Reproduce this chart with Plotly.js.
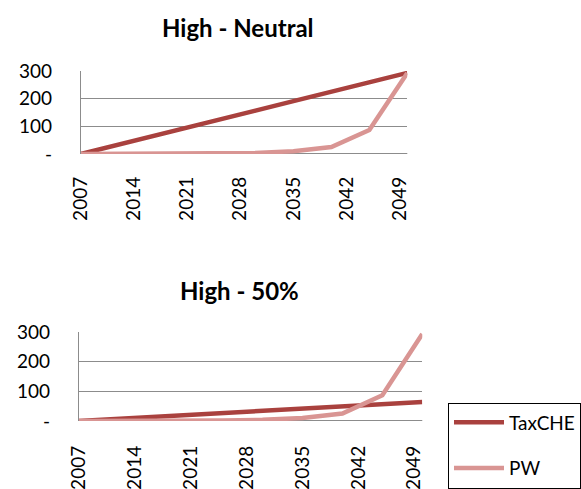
<!DOCTYPE html>
<html>
<head>
<meta charset="utf-8">
<script src="https://cdn.plot.ly/plotly-3.0.1.min.js"></script>
<style>
  html, body { margin: 0; padding: 0; background: #ffffff; }
  #chart { width: 581px; height: 489px; }
</style>
</head>
<body>
<div id="chart"></div>
<script>
// Years sampled for both scenarios
const years = [2007, 2010, 2015, 2020, 2025, 2030, 2035, 2040, 2045, 2050];

// High - Neutral scenario
const taxcheNeutral = [0, 20, 55, 89, 123, 157, 191, 225, 259, 293];
// High - 50% scenario
const taxche50 = [0, 4.5, 12, 19, 27, 34, 42, 49, 57, 64];
// PW path (shared by both scenarios)
const pw = [0, 0, 0.5, 1, 2, 4, 10, 25, 87, 293];

const xTicks = [2007, 2014, 2021, 2028, 2035, 2042, 2049];
const yTicks = [0, 100, 200, 300];
const yTickText = ['-', '100', '200', '300'];

const seriesNames = ['TaxCHE', 'PW'];
const panelTitles = ['High - Neutral', 'High - 50%'];

const colTax = '#A9413E';
const colPW = '#D99593';
const W = 581, H = 489;
const FONT = 'Lato, "Open Sans", sans-serif';

function line(x, y, name, color, xa, ya, show) {
  return {
    x: x, y: y, name: name, type: 'scatter', mode: 'lines',
    line: { color: color, width: 4.5 },
    xaxis: xa, yaxis: ya, showlegend: show, legendgroup: name,
    hoverinfo: 'skip'
  };
}

const traces = [
  line(years, taxcheNeutral, seriesNames[0], colTax, 'x', 'y', true),
  line(years, pw, seriesNames[1], colPW, 'x', 'y', true),
  line(years, taxche50, seriesNames[0], colTax, 'x2', 'y2', false),
  line(years, pw, seriesNames[1], colPW, 'x2', 'y2', false)
];

function xAxis(domain, anchor, standoff) {
  return {
    domain: domain, anchor: anchor, range: [2007, 2050],
    tickmode: 'array', tickvals: xTicks, ticktext: xTicks.map(String),
    tickangle: -90, showgrid: false, zeroline: false,
    showline: false, ticks: '', ticklen: 0, ticklabelstandoff: standoff,
    tickfont: { family: FONT, size: 19, color: '#000' }, fixedrange: true
  };
}
function yAxis(domain, anchor) {
  return {
    domain: domain, anchor: anchor, range: [0, 300],
    tickmode: 'array', tickvals: yTicks, ticktext: yTickText,
    showgrid: true, gridcolor: '#8c8c8c', gridwidth: 1,
    zeroline: false, showline: true, linecolor: '#8c8c8c', linewidth: 1,
    ticks: '', ticklabelstandoff: 24,
    tickfont: { family: FONT, size: 19, color: '#000' },
    fixedrange: true
  };
}

const layout = {
  width: W, height: H,
  margin: { l: 0, r: 0, t: 0, b: 0 },
  paper_bgcolor: '#ffffff', plot_bgcolor: 'rgba(0,0,0,0)',
  showlegend: true,
  xaxis: xAxis([81 / W, 408 / W], 'y', 18),
  yaxis: yAxis([(H - 154) / H, (H - 71) / H], 'x'),
  xaxis2: xAxis([79 / W, 423 / W], 'y2', 20),
  yaxis2: yAxis([(H - 421) / H, (H - 332) / H], 'x2'),
  legend: {
    x: 449 / W, y: 1 - 402.5 / H, xanchor: 'left', yanchor: 'top',
    bordercolor: '#000', borderwidth: 1, bgcolor: '#fff',
    font: { family: FONT, size: 19, color: '#000' },
    traceorder: 'grouped', tracegroupgap: 18, itemwidth: 50
  },
  shapes: [
    // darker category baselines at zero
    { type: 'line', xref: 'x domain', yref: 'y', x0: 0, x1: 1, y0: 0, y1: 0,
      line: { color: '#8c8c8c', width: 2 }, layer: 'below' },
    { type: 'line', xref: 'x2 domain', yref: 'y2', x0: 0, x1: 1, y0: 0, y1: 0,
      line: { color: '#8c8c8c', width: 2 }, layer: 'below' }
  ],
  annotations: [
    { text: '<b>' + panelTitles[0] + '</b>', xref: 'paper', yref: 'paper',
      x: 238 / W, y: 1 - 28 / H, xanchor: 'center', yanchor: 'middle',
      showarrow: false, font: { family: FONT, size: 24, color: '#000' } },
    { text: '<b>' + panelTitles[1] + '</b>', xref: 'paper', yref: 'paper',
      x: 240 / W, y: 1 - 290 / H, xanchor: 'center', yanchor: 'middle',
      showarrow: false, font: { family: FONT, size: 24, color: '#000' } }
  ]
};

Plotly.newPlot('chart', traces, layout, { staticPlot: true, displayModeBar: false });
</script>
</body>
</html>
